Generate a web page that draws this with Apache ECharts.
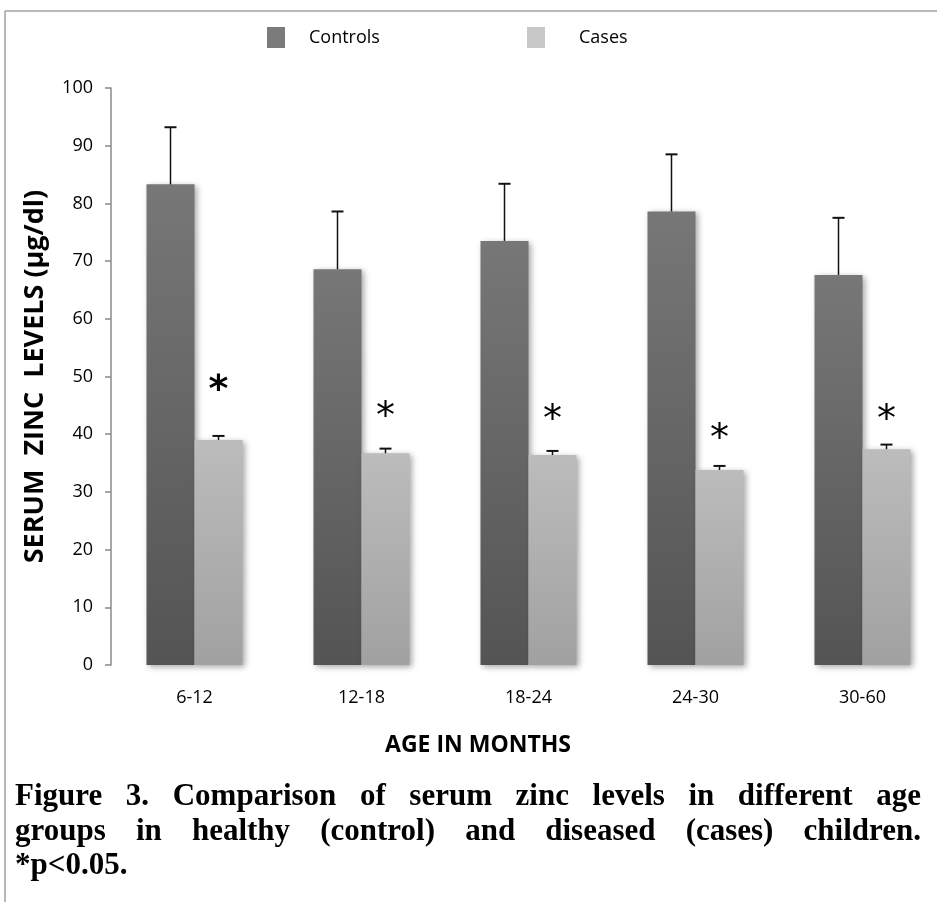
<!DOCTYPE html>
<html><head><meta charset="utf-8">
<script src="https://cdn.jsdelivr.net/npm/echarts@6/dist/echarts.min.js"></script>
<style>html,body{margin:0;padding:0;background:#fff;overflow:hidden;width:937px;height:902px;}#c{width:960px;height:902px;}</style>
</head><body><div id="c"></div>
<script>
// ---- data ----
const categories = ['6-12', '12-18', '18-24', '24-30', '30-60'];
const controls   = [83.3, 68.6, 73.5, 78.6, 67.6];
const controlsSD = [9.9, 10.0, 9.9, 9.9, 9.9];
const cases      = [39.0, 36.7, 36.4, 33.8, 37.4];
const casesSD    = [0.7, 0.8, 0.7, 0.7, 0.8];
const asteriskY  = [48.9, 44.2, 43.7, 40.4, 43.7];
const yMin = 0, yMax = 100, yInterval = 10;
const seriesNames = ['Controls', 'Cases'];
const yAxisTitle = 'SERUM  ZINC  LEVELS (\u00b5g/dl)';
const xAxisTitle = 'AGE IN MONTHS';
const captionLines = [
  'Figure 3. Comparison of serum zinc levels in different age',
  'groups in healthy (control) and diseased (cases) children.',
  '*p<0.05.'
];

const FONT = '"Open Sans", sans-serif';
const SERIF = '"Liberation Serif", "Times New Roman", serif';
const chart = echarts.init(document.getElementById('c'), null, {renderer: 'canvas'});

function errRender(offset) {
  return function (params, api) {
    const i = api.value(0), v = api.value(1), sd = api.value(2);
    const p0 = api.coord([i, v]);
    const p1 = api.coord([i, v + sd]);
    const cx = p0[0] + offset, cap = 6;
    return {type: 'group', children: [
      {type: 'line', shape: {x1: cx, y1: p0[1], x2: cx, y2: p1[1]}, style: {stroke: '#111', lineWidth: 1.5}},
      {type: 'line', shape: {x1: cx - cap, y1: p1[1], x2: cx + cap, y2: p1[1]}, style: {stroke: '#111', lineWidth: 2}}
    ]};
  };
}

function starRender(params, api) {
  const i = api.value(0), y = api.value(1);
  const p = api.coord([i, y]);
  const first = params.dataIndex === 0;
  const fs = 38;
  return {type: 'text', x: p[0] + 24, y: p[1] + fs * 0.22, style: {
    text: '*', fill: '#000', align: 'center', verticalAlign: 'middle',
    font: (first ? 'bold ' : '') + fs + 'px "DejaVu Sans"'
  }};
}

// caption justified words
const measureCtx = document.createElement('canvas').getContext('2d');
const capFont = 'bold 31px ' + SERIF;
measureCtx.font = capFont;
const capLeft = 15, capRight = 921, capY = [797, 832, 866];
const captionGraphics = [];
captionLines.forEach(function (line, li) {
  const words = line.split(' ');
  const widths = words.map(w => measureCtx.measureText(w).width);
  const total = widths.reduce((a, b) => a + b, 0);
  const justify = li < captionLines.length - 1 && words.length > 1;
  const gap = justify ? (capRight - capLeft - total) / (words.length - 1) : measureCtx.measureText(' ').width;
  let x = capLeft;
  words.forEach(function (w, wi) {
    captionGraphics.push({type: 'text', x: x, y: capY[li], style: {
      text: w, font: capFont, fill: '#000', verticalAlign: 'middle', align: 'left'}});
    x += widths[wi] + gap;
  });
});

const option = {
  backgroundColor: '#fff',
  animation: false,
  grid: {left: 111, top: 88, height: 577, width: 835, containLabel: false},
  legend: [
    {left: 267, top: 27, padding: 0, icon: 'rect', itemWidth: 18, itemHeight: 21, selectedMode: false,
     data: [{name: seriesNames[0], itemStyle: {color: '#7b7b7b', shadowBlur: 0}}],
     textStyle: {fontFamily: FONT, fontSize: 18, color: '#000', padding: [0, 0, 0, 19]}},
    {left: 527, top: 27, padding: 0, icon: 'rect', itemWidth: 18, itemHeight: 21, selectedMode: false,
     data: [{name: seriesNames[1], itemStyle: {color: '#c8c8c8', shadowBlur: 0}}],
     textStyle: {fontFamily: FONT, fontSize: 18, color: '#000', padding: [0, 0, 0, 29]}}
  ],
  xAxis: {
    type: 'category', data: categories,
    axisLine: {show: false}, axisTick: {show: false},
    axisLabel: {fontFamily: FONT, fontSize: 18, color: '#000', margin: 24}
  },
  yAxis: {
    type: 'value', min: yMin, max: yMax, interval: yInterval,
    name: yAxisTitle, nameLocation: 'middle', nameGap: 62,
    nameTextStyle: {fontFamily: FONT, fontSize: 27, fontWeight: 'bold', color: '#000'},
    axisLine: {show: true, lineStyle: {color: '#8a8a8a', width: 1.5}},
    axisTick: {show: true, length: 6, lineStyle: {color: '#8a8a8a', width: 1.5}},
    axisLabel: {fontFamily: FONT, fontSize: 18, color: '#000', margin: 18},
    splitLine: {show: false}
  },
  series: [
    {name: seriesNames[0], type: 'bar', data: controls, barWidth: 48, barGap: '0%',
     itemStyle: {color: new echarts.graphic.LinearGradient(0, 0, 0, 1, [{offset: 0, color: '#777777'}, {offset: 1, color: '#545454'}]),
       shadowBlur: 6, shadowColor: 'rgba(0,0,0,0.35)', shadowOffsetX: 2, shadowOffsetY: 2}},
    {name: seriesNames[1], type: 'bar', data: cases, barWidth: 48, barGap: '0%',
     itemStyle: {color: new echarts.graphic.LinearGradient(0, 0, 0, 1, [{offset: 0, color: '#bcbcbc'}, {offset: 1, color: '#a1a1a1'}]),
       shadowBlur: 6, shadowColor: 'rgba(0,0,0,0.35)', shadowOffsetX: 2, shadowOffsetY: 2}},
    {type: 'custom', renderItem: errRender(-24), z: 5,
     data: controls.map((v, i) => [i, v, controlsSD[i]])},
    {type: 'custom', renderItem: errRender(24), z: 5,
     data: cases.map((v, i) => [i, v, casesSD[i]])},
    {type: 'custom', renderItem: starRender, z: 6,
     data: asteriskY.map((v, i) => [i, v])}
  ],
  graphic: [
    {type: 'line', shape: {x1: 5, y1: 11, x2: 960, y2: 11}, style: {stroke: '#a0a0a0', lineWidth: 1.5}},
    {type: 'line', shape: {x1: 5, y1: 11, x2: 5, y2: 902}, style: {stroke: '#a0a0a0', lineWidth: 1.5}},
    {type: 'text', x: 478, y: 745, style: {text: xAxisTitle, font: 'bold 23px ' + FONT, fill: '#000', align: 'center', verticalAlign: 'middle'}}
  ].concat(captionGraphics)
};
chart.setOption(option);
</script>
</body></html>
